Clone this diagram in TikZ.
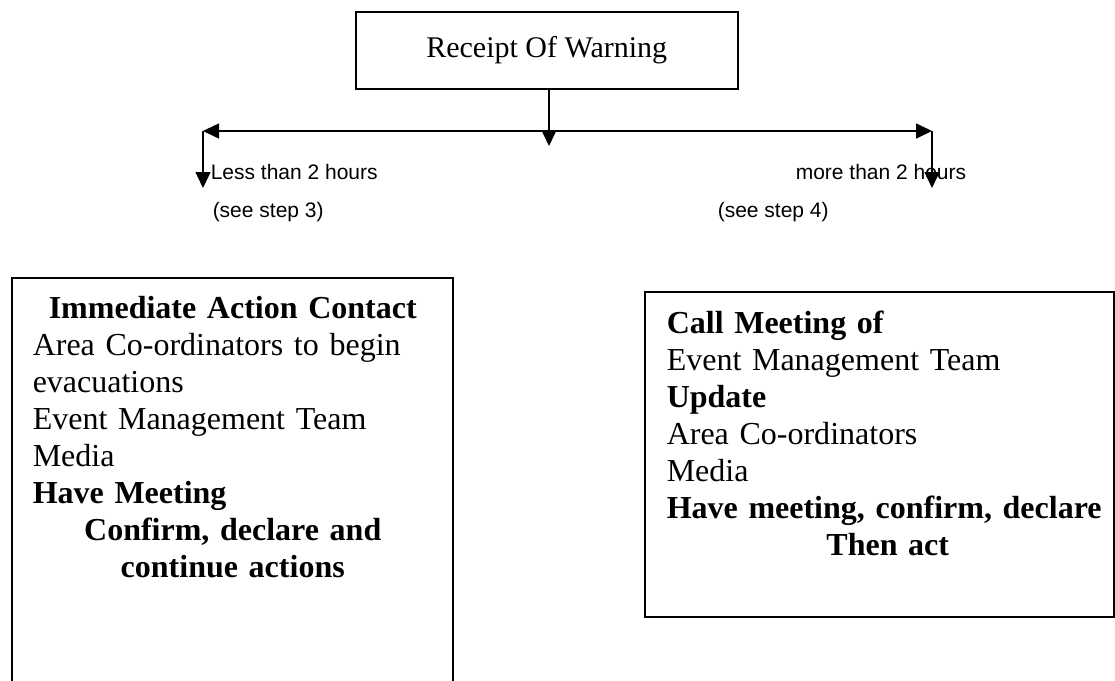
\documentclass[tikz,border=0pt]{standalone}
\usepackage{fontspec}
\setmainfont{Liberation Serif}
\newfontfamily\labelfont{Liberation Sans}
\usetikzlibrary{arrows.meta}
\setlength{\parindent}{0pt}
\begin{document}
\begin{tikzpicture}[x=1pt,y=-1pt,
  line width=1.5pt,
  arr/.style={-{Triangle[length=16pt,width=15pt]}},
  boxstyle/.style={draw, rectangle, inner sep=0pt},
  boxtext/.style={inner sep=0pt, anchor=north west, align=left,
     font=\fontsize{32}{37}\selectfont},
  lbl/.style={inner sep=0pt, anchor=base west, font=\labelfont\fontsize{21}{25}\selectfont}]
\useasboundingbox (0,0) rectangle (1115,680);
\begin{scope}
\clip (0,0) rectangle (1115,680);
% top box
\node[boxstyle, minimum width=382pt, minimum height=77pt, anchor=north west,
  font=\fontsize{30}{34}\selectfont] (top) at (355,11) {Receipt Of Warning};
% connectors
\coordinate (mid) at (549,146);
\coordinate (hc) at (549,131);
\coordinate (hl) at (203,131);
\coordinate (hr) at (932,131);
\coordinate (dl) at (203,188);
\coordinate (dr) at (932,188);
\draw[arr] (mid |- top.south) -- (mid);
\draw[arr] (hc) -- (hl);
\draw[arr] (hc) -- (hr);
\draw[arr] (hl) -- (dl);
\draw[arr] (hr) -- (dr);
% labels
\node[lbl] (less) at (210,179) {Less than 2 hours};
\node[lbl] (see3) at (212,217) {(see step 3)};
\node[lbl] (more) at (795,179) {more than 2 hours};
\node[lbl] (see4) at (717,217) {(see step 4)};
% left box
\node[boxstyle, minimum width=441pt, minimum height=440pt, anchor=north west] (lbox) at (11,277) {};
\node[boxtext, text width=400pt] (ltext) at (32,296) {%
\centerline{\bfseries Immediate Action Contact}
\noindent Area Co-ordinators to begin\\
evacuations\\
Event Management Team\\
Media\\
\textbf{Have Meeting}\par
\centerline{\bfseries Confirm, declare and}
\centerline{\bfseries continue actions}};
% right box
\node[boxstyle, minimum width=469pt, minimum height=325pt, anchor=north west] (rbox) at (644,291) {};
\node[boxtext, text width=442pt] (rtext) at (666,310) {%
\noindent\textbf{Call Meeting of}\\
Event Management Team\\
\textbf{Update}\\
Area Co-ordinators\\
Media\\
\mbox{\bfseries Have meeting, confirm, declare}\par
\centerline{\bfseries Then act}};
\end{scope}
\end{tikzpicture}
\end{document}
